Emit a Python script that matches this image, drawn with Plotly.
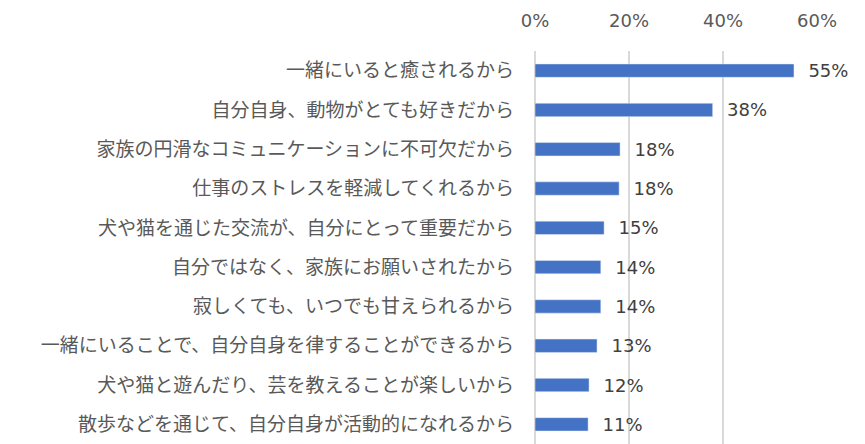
import plotly.graph_objects as go

categories = [
    "一緒にいると癒されるから",
    "自分自身、動物がとても好きだから",
    "家族の円滑なコミュニケーションに不可欠だから",
    "仕事のストレスを軽減してくれるから",
    "犬や猫を通じた交流が、自分にとって重要だから",
    "自分ではなく、家族にお願いされたから",
    "寂しくても、いつでも甘えられるから",
    "一緒にいることで、自分自身を律することができるから",
    "犬や猫と遊んだり、芸を教えることが楽しいから",
    "散歩などを通じて、自分自身が活動的になれるから",
]
values = [0.551, 0.378, 0.181, 0.179, 0.147, 0.140, 0.140, 0.132, 0.115, 0.113]
labels = ["55%", "38%", "18%", "18%", "15%", "14%", "14%", "13%", "12%", "11%"]
x_ticks = [0, 0.2, 0.4, 0.6]
x_tick_text = ["0%", "20%", "40%", "60%"]

fig = go.Figure(
    go.Bar(
        x=values,
        y=categories,
        orientation="h",
        marker_color="#4472C4",
        text=["\u00a0\u00a0" + t for t in labels],
        textposition="outside",
        textfont=dict(family="DejaVu Sans, sans-serif", size=18, color="#404040"),
        cliponaxis=False,
        constraintext="none",
    )
)

fig.update_layout(
    width=865,
    height=444,
    margin=dict(l=535, r=48, t=51, b=0),
    paper_bgcolor="white",
    plot_bgcolor="white",
    bargap=0.66,
    showlegend=False,
    font=dict(family="Noto Sans CJK JP, sans-serif", color="#595959"),
)
fig.update_xaxes(
    range=[0, 0.6],
    side="top",
    tickvals=x_ticks,
    ticktext=x_tick_text,
    showgrid=True,
    gridcolor="#D9D9D9",
    gridwidth=1.5,
    zeroline=True,
    zerolinecolor="#D9D9D9",
    zerolinewidth=1.5,
    showline=False,
    tickfont=dict(family="DejaVu Sans, sans-serif", size=18, color="#595959"),
    ticklabelstandoff=19,
)
fig.update_yaxes(
    autorange="reversed",
    showline=False,
    ticks="",
    tickfont=dict(family="Noto Sans CJK JP, sans-serif", size=19, color="#595959"),
    ticklabelstandoff=20,
)

fig.write_html("out.html")
